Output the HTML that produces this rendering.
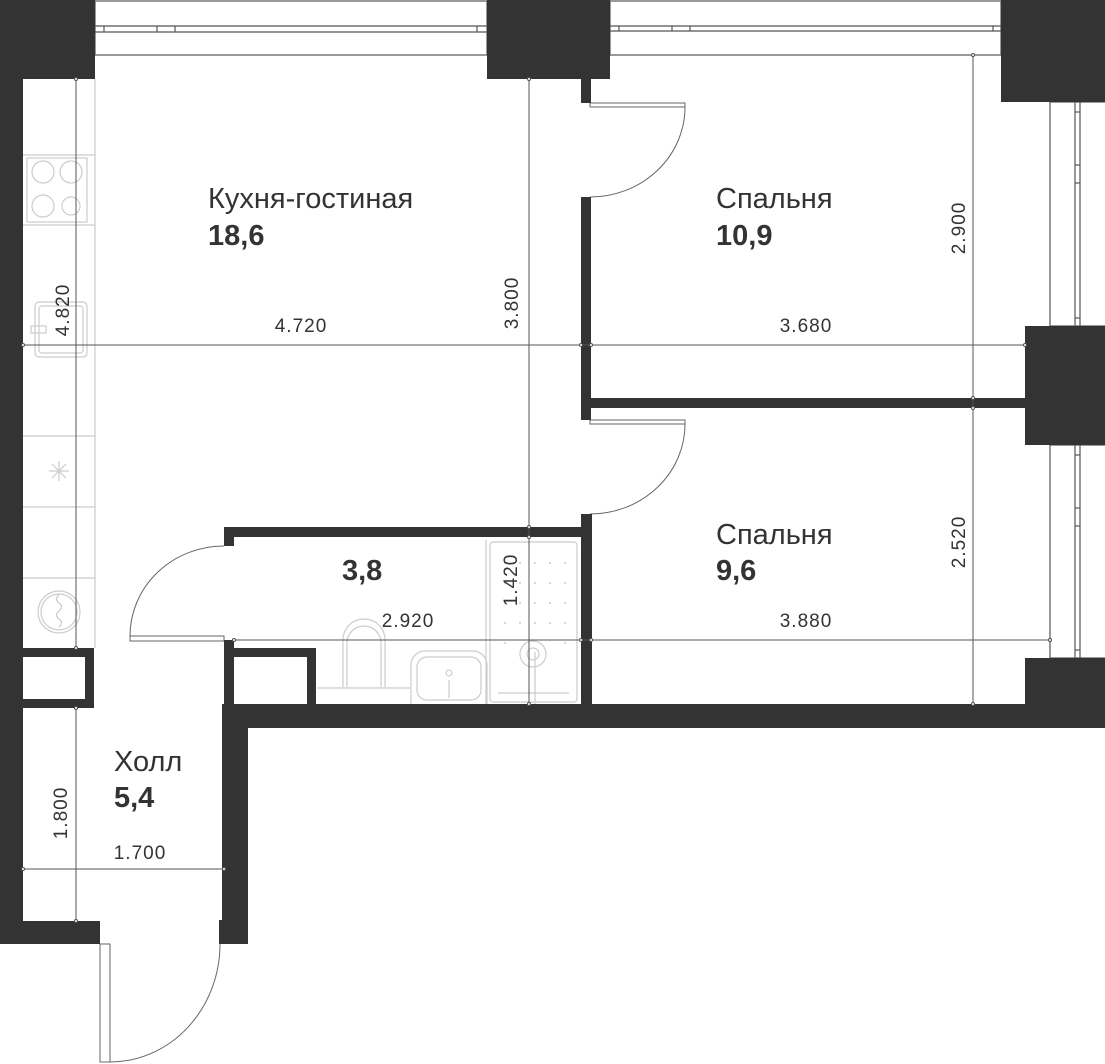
<!DOCTYPE html>
<html><head><meta charset="utf-8"><style>
html,body{margin:0;padding:0;background:#fff}
svg{display:block}
text{font-family:"Liberation Sans",sans-serif;fill:#333}
.lbl{font-size:29px}
.num{font-size:29px;font-weight:bold}
.dim{font-size:19px;letter-spacing:1px}
</style></head><body>
<svg width="1105" height="1064" viewBox="0 0 1105 1064" xmlns="http://www.w3.org/2000/svg">
<g fill="none" stroke="#555" stroke-width="1.2">
<rect x="95" y="1" width="392" height="54"/>
<line x1="95" y1="26" x2="487" y2="26"/><line x1="95" y1="32" x2="487" y2="32"/>
<line x1="104" y1="26" x2="104" y2="32"/><line x1="157" y1="26" x2="157" y2="32"/><line x1="175" y1="26" x2="175" y2="32"/><line x1="477" y1="26" x2="477" y2="32"/>
<rect x="610" y="1" width="391" height="54"/>
<line x1="610" y1="26" x2="1001" y2="26"/><line x1="610" y1="31" x2="1001" y2="31"/>
<line x1="619" y1="26" x2="619" y2="31"/><line x1="672" y1="26" x2="672" y2="31"/><line x1="690" y1="26" x2="690" y2="31"/><line x1="993" y1="26" x2="993" y2="31"/>
<rect x="1050" y="102" width="60" height="224"/>
<line x1="1075" y1="102" x2="1075" y2="326"/><line x1="1080" y1="102" x2="1080" y2="326"/>
<line x1="1075" y1="112" x2="1080" y2="112"/><line x1="1075" y1="165" x2="1080" y2="165"/><line x1="1075" y1="183" x2="1080" y2="183"/><line x1="1075" y1="318" x2="1080" y2="318"/>
<rect x="1050" y="445" width="60" height="213"/>
<line x1="1075" y1="445" x2="1075" y2="658"/><line x1="1080" y1="445" x2="1080" y2="658"/>
<line x1="1075" y1="455" x2="1080" y2="455"/><line x1="1075" y1="508" x2="1080" y2="508"/><line x1="1075" y1="526" x2="1080" y2="526"/><line x1="1075" y1="650" x2="1080" y2="650"/>
</g>
<g fill="none" stroke="#ccc" stroke-width="1.2">
<line x1="95" y1="79" x2="95" y2="648"/>
<line x1="23" y1="155" x2="95" y2="155"/><line x1="23" y1="225" x2="95" y2="225"/>
<line x1="23" y1="436" x2="95" y2="436"/><line x1="23" y1="507" x2="95" y2="507"/><line x1="23" y1="578" x2="95" y2="578"/>
<rect x="27" y="158" width="60" height="64"/>
<circle cx="43" cy="172" r="11"/><circle cx="71" cy="172" r="11"/><circle cx="43" cy="206" r="11"/><circle cx="71" cy="206" r="9"/>
<rect x="35" y="302" width="52" height="55" rx="4"/><rect x="39" y="306" width="44" height="47" rx="3"/>
<rect x="31" y="326" width="15" height="7"/>
<line x1="59" y1="461" x2="59" y2="481"/><line x1="49" y1="471" x2="69" y2="471"/><line x1="52" y1="464" x2="66" y2="478"/><line x1="66" y1="464" x2="52" y2="478"/>
<circle cx="59" cy="612" r="21"/><circle cx="59" cy="612" r="18"/>
<path d="M59 595 q-5 4 0 8 q5 4 0 8 q-5 4 0 8 q5 4 0 8"/>
</g>
<g fill="none" stroke="#ccc" stroke-width="1.2">
<line x1="486" y1="540" x2="486" y2="704"/>
<rect x="490" y="542" width="87" height="160" rx="3"/>
<path d="M317 688 H410"/>
<path d="M343 687 V640 a21 21 0 0 1 42 0 V687"/><path d="M347 687 V643 a17 17 0 0 1 34 0 V687"/>
<path d="M411 704 V665 a14 14 0 0 1 14 -14 H473 a14 14 0 0 1 14 14 V704"/>
<rect x="417" y="657" width="64" height="43" rx="10"/>
<circle cx="449" cy="673" r="3"/><line x1="449" y1="680" x2="449" y2="698"/>
<circle cx="533" cy="654" r="13"/><circle cx="533" cy="654" r="6"/>
<line x1="535" y1="652" x2="535" y2="704"/>
<line x1="498" y1="693" x2="569" y2="693"/>
</g>
<g fill="#ccc">
<circle cx="505" cy="563" r="1"/><circle cx="520" cy="563" r="1"/><circle cx="535" cy="563" r="1"/><circle cx="550" cy="563" r="1"/><circle cx="565" cy="563" r="1"/>
<circle cx="505" cy="583" r="1"/><circle cx="520" cy="583" r="1"/><circle cx="535" cy="583" r="1"/><circle cx="550" cy="583" r="1"/><circle cx="565" cy="583" r="1"/>
<circle cx="505" cy="603" r="1"/><circle cx="520" cy="603" r="1"/><circle cx="535" cy="603" r="1"/><circle cx="550" cy="603" r="1"/><circle cx="565" cy="603" r="1"/>
<circle cx="505" cy="623" r="1"/><circle cx="520" cy="623" r="1"/><circle cx="535" cy="623" r="1"/><circle cx="550" cy="623" r="1"/><circle cx="565" cy="623" r="1"/>
<circle cx="505" cy="643" r="1"/><circle cx="565" cy="643" r="1"/>
</g>
<g fill="#fff" stroke="#666" stroke-width="1">
<rect x="590" y="103" width="95" height="4"/>
<path d="M685 107 A95 90 0 0 1 590 197" fill="none"/>
<rect x="590" y="420" width="95" height="4"/>
<path d="M685 424 A95 90 0 0 1 590 514" fill="none"/>
<rect x="130" y="636" width="94" height="5"/>
<path d="M130 636 A94 90 0 0 1 224 546" fill="none"/>
<rect x="100" y="944" width="10" height="118"/>
<path d="M110 1062 A110 118 0 0 0 220 944" fill="none"/>
</g>
<g fill="#333">
<rect x="0" y="0" width="95" height="79"/>
<rect x="0" y="79" width="23" height="865"/>
<rect x="0" y="921" width="100" height="23"/>
<rect x="487" y="0" width="123" height="79"/>
<rect x="581" y="79" width="10" height="24"/>
<rect x="581" y="197" width="10" height="223"/>
<rect x="590" y="398" width="440" height="10"/>
<rect x="1001" y="0" width="104" height="102"/>
<rect x="1025" y="326" width="80" height="119"/>
<rect x="1025" y="658" width="80" height="70"/>
<rect x="581" y="514" width="11" height="191"/>
<rect x="224" y="527" width="368" height="10"/>
<rect x="224" y="527" width="10" height="19"/>
<rect x="224" y="640" width="10" height="88"/>
<rect x="224" y="704" width="881" height="24"/>
<rect x="222" y="704" width="26" height="240"/>
<rect x="219" y="920" width="29" height="24"/>
<rect x="234" y="648" width="82" height="9"/>
<rect x="307" y="648" width="9" height="57"/>
<rect x="23" y="648" width="71" height="9"/>
<rect x="85" y="648" width="9" height="60"/>
<rect x="23" y="699" width="71" height="9"/>
</g>
<g stroke="#555" stroke-width="1" fill="none">
<line x1="76" y1="79" x2="76" y2="648"/>
<line x1="76" y1="708" x2="76" y2="921"/>
<line x1="529" y1="79" x2="529" y2="705"/>
<line x1="973" y1="55" x2="973" y2="704"/>
<line x1="23" y1="345" x2="1025" y2="345"/>
<line x1="234" y1="640" x2="1050" y2="640"/>
<line x1="23" y1="869" x2="224" y2="869"/>
</g>
<g fill="#fff" stroke="#555" stroke-width="1">
<circle cx="76" cy="79" r="1.5"/><circle cx="76" cy="648" r="1.5"/><circle cx="76" cy="708" r="1.5"/><circle cx="76" cy="921" r="1.5"/>
<circle cx="529" cy="79" r="1.5"/><circle cx="529" cy="527" r="1.5"/><circle cx="529" cy="537" r="1.5"/><circle cx="529" cy="704" r="1.5"/>
<circle cx="973" cy="55" r="1.5"/><circle cx="973" cy="398" r="1.5"/><circle cx="973" cy="408" r="1.5"/><circle cx="973" cy="704" r="1.5"/>
<circle cx="23" cy="345" r="1.5"/><circle cx="581" cy="345" r="1.5"/><circle cx="591" cy="345" r="1.5"/><circle cx="1025" cy="345" r="1.5"/>
<circle cx="234" cy="640" r="1.5"/><circle cx="581" cy="640" r="1.5"/><circle cx="591" cy="640" r="1.5"/><circle cx="1050" cy="640" r="1.5"/>
<circle cx="23" cy="869" r="1.5"/><circle cx="224" cy="869" r="1.5"/>
</g>
<text class="lbl" x="208" y="208">Кухня-гостиная</text>
<text class="num" x="208" y="245">18,6</text>
<text class="lbl" x="716" y="208">Спальня</text>
<text class="num" x="716" y="245">10,9</text>
<text class="lbl" x="716" y="544">Спальня</text>
<text class="num" x="716" y="580">9,6</text>
<text class="num" x="342" y="580">3,8</text>
<text class="lbl" x="114" y="771">Холл</text>
<text class="num" x="114" y="807">5,4</text>
<text class="dim" x="301" y="332" text-anchor="middle">4.720</text>
<text class="dim" x="806" y="332" text-anchor="middle">3.680</text>
<text class="dim" x="806" y="627" text-anchor="middle">3.880</text>
<text class="dim" x="408" y="627" text-anchor="middle">2.920</text>
<text class="dim" x="140" y="859" text-anchor="middle">1.700</text>
<text class="dim" transform="translate(69,310) rotate(-90)" text-anchor="middle">4.820</text>
<text class="dim" transform="translate(518,303) rotate(-90)" text-anchor="middle">3.800</text>
<text class="dim" transform="translate(965,228) rotate(-90)" text-anchor="middle">2.900</text>
<text class="dim" transform="translate(965,542) rotate(-90)" text-anchor="middle">2.520</text>
<text class="dim" transform="translate(517,580) rotate(-90)" text-anchor="middle">1.420</text>
<text class="dim" transform="translate(67,813) rotate(-90)" text-anchor="middle">1.800</text>
</svg>
</body></html>
